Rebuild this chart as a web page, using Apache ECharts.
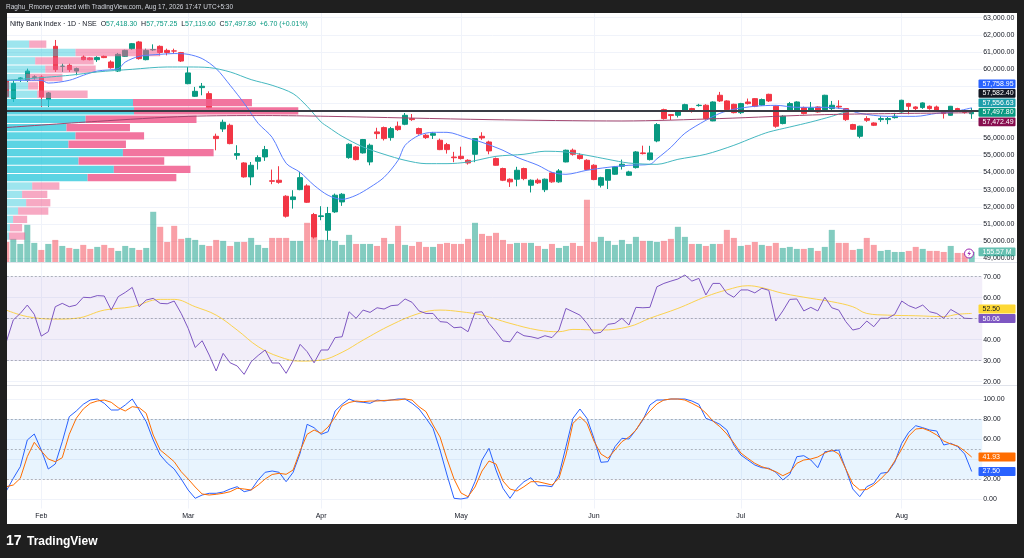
<!DOCTYPE html>
<html>
<head>
<meta charset="utf-8">
<title>Nifty Bank Index · 1D · NSE</title>
<script src="https://cdn.jsdelivr.net/npm/echarts@6.0.0/dist/echarts.min.js"></script>
<style>
    html, body { margin: 0; padding: 0; background: #1f1f1f; overflow: hidden; }
    #chart { width: 1024px; height: 558px; }
</style>
</head>
<body>
<div id="chart"></div>
<script>
// time axis: month names shown on the first session of each month
var monthLabels = ['Feb', 'Mar', 'Apr', 'May', 'Jun', 'Jul', 'Aug'];
var monthStarts = [5, 26, 45, 65, 84, 105, 128];

// daily candles [open, high, low, close]
var ohlc = [
    [59360, 59450, 58300, 58400], [58295, 59360, 58100, 59170], [59460, 59550, 59260, 59500], [59360, 60040, 59260, 59900],
    [59530, 59650, 59400, 59560], [59555, 59650, 57810, 58390], [58240, 58680, 57810, 58625], [61335, 61705, 59845, 59980],
    [60170, 60330, 59845, 60180], [60230, 60330, 59845, 59980], [59900, 60100, 59650, 60040], [60715, 60810, 60520, 60560],
    [60660, 60700, 60520, 60560], [60560, 60760, 60430, 60680], [60755, 60800, 60650, 60680], [60425, 60520, 60040, 60095],
    [59900, 60950, 59845, 60870], [60755, 61140, 60715, 61100], [61200, 61530, 61140, 61490], [61590, 61650, 60560, 60620],
    [60560, 61200, 60520, 61100], [61130, 61450, 61060, 61150], [61335, 61390, 60810, 60980], [61100, 61200, 60810, 60980],
    [61070, 61200, 60910, 61060], [60970, 61010, 60425, 60480], [59165, 60135, 59130, 59790], [58430, 58975, 58390, 58720],
    [58935, 59205, 58490, 59015], [58585, 58720, 57715, 57770], [56105, 56260, 55290, 55970], [56530, 57075, 56360, 56920],
    [56745, 56840, 55640, 55680], [55000, 55585, 54750, 55100], [54555, 54600, 53700, 53745], [53745, 54610, 53260, 54420],
    [54655, 55000, 54170, 54865], [54905, 55545, 54675, 55330], [53520, 54170, 53320, 53490], [53550, 54365, 53350, 53430],
    [52620, 52680, 51380, 51460], [52425, 52970, 51900, 52580], [53005, 54030, 52970, 53700], [53220, 53315, 52230, 52270],
    [51555, 51650, 50160, 50255], [51440, 52040, 51225, 51480], [50645, 52000, 50060, 51615], [51710, 52775, 51650, 52680],
    [52290, 52800, 52060, 52735], [54865, 55700, 54800, 55640], [55485, 55540, 54700, 54750], [55140, 55950, 55100, 55915],
    [54615, 55680, 54420, 55585], [56360, 56600, 55950, 56260], [56610, 56670, 55860, 55970], [56030, 56650, 55850, 56550],
    [56690, 56960, 56420, 56495], [56805, 57460, 56750, 57325], [57130, 57400, 57000, 57075], [56555, 56610, 56200, 56260],
    [56165, 56230, 55950, 56030], [56165, 56360, 55950, 56260], [55875, 55970, 55300, 55330], [55620, 55720, 55100, 55330],
    [54900, 55200, 54600, 54860], [54945, 55500, 54750, 54810], [54710, 54770, 54460, 54555], [55060, 56000, 54600, 55970],
    [56105, 56340, 55900, 56010], [55775, 55850, 55060, 55255], [54810, 54870, 54400, 54420], [54230, 54280, 53500, 53550],
    [53610, 53660, 53160, 53455], [53610, 54330, 53200, 54130], [54230, 54280, 53550, 53645], [53260, 53600, 52840, 53550],
    [53550, 53650, 53330, 53400], [53000, 53650, 52860, 53610], [53975, 54030, 53400, 53455], [53455, 54200, 53400, 54090],
    [54615, 55330, 54590, 55295], [55295, 55390, 54980, 55060], [55005, 55120, 54750, 54810], [54710, 54770, 54130, 54170],
    [54420, 54480, 53550, 53590], [53260, 53750, 53130, 53700], [53550, 54200, 53040, 54170], [53900, 54380, 53860, 54325],
    [54365, 54750, 54170, 54480], [53840, 54100, 53800, 54035], [54285, 55250, 54230, 55195], [55140, 55560, 55050, 55100],
    [54750, 55550, 54700, 55140], [55835, 56870, 55760, 56785], [57655, 57710, 57075, 57135], [57365, 57400, 57050, 57310],
    [57325, 57630, 57200, 57580], [57580, 58000, 57520, 57945], [57715, 57760, 57480, 57580], [57890, 57990, 57830, 57910],
    [57910, 57970, 57075, 57135], [57000, 58140, 56980, 58100], [58490, 58685, 58100, 58160], [58160, 58200, 57600, 57655],
    [57965, 58000, 57440, 57480], [57480, 58050, 57400, 58005], [58100, 58300, 57950, 58005], [58295, 58330, 57800, 57850],
    [57925, 58300, 57880, 58240], [58545, 58580, 58100, 58160], [57850, 57900, 56600, 56690], [56845, 57330, 56800, 57270],
    [57580, 58100, 57520, 58005], [57580, 58140, 57520, 58100], [57775, 57830, 57380, 57425], [57620, 58100, 57520, 57755],
    [57810, 57850, 57480, 57520], [57655, 58520, 57600, 58490], [57715, 58160, 57580, 57910], [57850, 58200, 57700, 57810],
    [57715, 57750, 57000, 57075], [56785, 56830, 56480, 56515], [56105, 56720, 55990, 56690], [57135, 57270, 56940, 57035],
    [56880, 56920, 56700, 56745], [57075, 57270, 56940, 57135], [57075, 57230, 56810, 57135], [57190, 57465, 57135, 57270],
    [57520, 58230, 57480, 58200], [58005, 58050, 57385, 57850], [57810, 57850, 57600, 57715], [57775, 58080, 57700, 58045],
    [57850, 57900, 57650, 57715], [57810, 57890, 57520, 57620], [57520, 57560, 57135, 57425], [57325, 57870, 57300, 57850],
    [57715, 57760, 57520, 57580], [57540, 57580, 57420, 57491.10], [57418.30, 57757.25, 57119.60, 57497.80]
];

// volume, millions
var volume = [
    310, 357, 279, 574, 295, 186, 279, 341, 248, 217,
    202, 264, 202, 233, 264, 217, 171, 248, 217, 186,
    217, 775, 543, 310, 558, 357, 372, 341, 264, 248,
    341, 326, 248, 310, 310, 372, 264, 217, 372, 372,
    372, 326, 326, 605, 682, 341, 341, 326, 264, 419,
    279, 279, 279, 248, 372, 279, 558, 264, 248, 310,
    233, 233, 279, 295, 279, 279, 357, 605, 434, 403,
    450, 341, 279, 295, 295, 295, 248, 202, 279, 217,
    248, 295, 248, 961, 310, 388, 326, 264, 341, 279,
    388, 326, 326, 310, 326, 357, 543, 388, 279, 279,
    248, 279, 279, 496, 372, 248, 264, 310, 264, 248,
    295, 217, 233, 202, 202, 217, 171, 233, 496, 295,
    295, 186, 202, 372, 264, 171, 186, 155, 155, 171,
    233, 202, 171, 171, 155, 248, 140, 140, 155.57
];

// moving averages, [bar, price]
var maFast = [
    [0, 59360], [5, 59360], [6, 59200], [9, 59360], [11, 59650], [13, 59900], [16, 60040], [17, 60420], [19, 60755],
    [22, 60870], [24, 60915], [26, 60870], [28, 60620], [30, 60040], [32, 59070], [34, 58025], [36, 56860], [38, 56045],
    [40, 54535], [42, 54010], [44, 53255], [46, 52675], [48, 52440], [50, 52675], [52, 53140], [54, 53720], [56, 54710],
    [57, 55580], [59, 56165], [61, 56335], [63, 56335], [66, 55990], [68, 55755], [71, 55290], [73, 54885], [76, 54420],
    [78, 54010], [80, 53895], [83, 54130], [86, 54300], [89, 54420], [92, 54475], [93, 54795], [95, 55465], [97, 56280],
    [100, 57035], [102, 57440], [104, 57675], [107, 57850], [110, 57905], [113, 57790], [117, 57790], [120, 57675],
    [122, 57440], [126, 57265], [130, 57265], [133, 57440], [135, 57500], [138, 57758.95]
];
var maSlow = [
    [0, 59360], [9, 59650], [13, 59845], [18, 60000], [23, 60135], [26, 60135], [29, 60100], [32, 59845], [35, 59400],
    [38, 59070], [41, 58585], [43, 57850], [45, 56935], [46, 56645], [48, 56105], [51, 55485], [54, 55060], [57, 54710],
    [60, 54515], [63, 54515], [66, 54610], [70, 54940], [74, 55060], [77, 55235], [80, 55190], [83, 55000], [86, 54765],
    [89, 54550], [93, 54475], [96, 54765], [100, 55060], [104, 55580], [107, 56065], [109, 56355], [112, 56645],
    [115, 56935], [118, 57265], [120, 57515], [123, 57575], [127, 57575], [131, 57575], [134, 57565], [138, 57556.63]
];
var maLong = [
    [0, 56615], [13, 56975], [26, 57265], [37, 57310], [46, 57265], [69, 57075], [88, 56995], [102, 57135],
    [117, 57365], [138, 57472.49]
];

// visible-range volume profile, top row first
var vpUp = [22, 68, 28, 38, 19, 21, 30, 125, 126, 78, 59, 68, 61, 115, 71, 106, 80, 25, 15, 19, 11, 6, 3, 2];
var vpDown = [17, 84, 58, 50, 36, 10, 50, 118, 163, 110, 63, 68, 57, 90, 85, 76, 88, 27, 25, 24, 30, 14, 12, 16];
var pocPrice = 57582.40;

var rsi = [
    39.0, 49.4, 52.5, 56.5, 52.1, 41.7, 43.8, 55.7, 57.3, 55.7,
    56.5, 60.2, 60.0, 61.0, 60.8, 54.1, 60.5, 62.5, 64.9, 55.7,
    58.9, 59.7, 57.3, 57.1, 58.4, 52.5, 45.4, 36.3, 39.5, 32.7,
    25.1, 33.5, 29.0, 27.5, 23.5, 29.5, 32.5, 35.1, 28.9, 28.9,
    24.0, 30.0, 37.8, 34.3, 29.0, 35.1, 35.1, 41.0, 41.4, 53.3,
    50.2, 54.1, 53.0, 55.2, 54.6, 56.2, 56.5, 59.4, 57.8, 53.7,
    52.5, 52.5, 48.6, 48.3, 45.7, 46.0, 43.8, 53.0, 53.3, 47.8,
    43.8, 39.4, 39.0, 43.8, 41.9, 41.4, 40.6, 41.9, 41.0, 44.6,
    54.9, 53.3, 51.7, 47.8, 43.0, 43.5, 47.3, 47.8, 50.2, 47.0,
    55.4, 55.2, 55.4, 65.2, 66.8, 67.9, 68.9, 70.8, 67.9, 69.2,
    61.3, 66.8, 66.8, 62.1, 60.2, 63.7, 63.7, 62.3, 64.5, 63.5,
    48.9, 53.7, 59.2, 59.4, 53.7, 55.4, 53.7, 60.2, 55.2, 54.1,
    48.6, 44.6, 45.4, 48.9, 46.2, 50.2, 50.2, 52.1, 58.4, 56.2,
    54.9, 56.5, 53.3, 52.5, 50.2, 54.4, 52.5, 50.2, 50.06
];
var rsiMa = [
    [0, 54.1], [3, 51.0], [7, 49.8], [10, 50.2], [14, 54.1], [18, 55.7], [22, 59.2], [24, 59.2], [27, 55.7],
    [30, 51.7], [33, 44.6], [36, 36.7], [39, 31.9], [42, 29.8], [45, 30.3], [48, 34.0], [51, 39.8], [55, 47.0],
    [59, 52.5], [62, 54.1], [65, 53.3], [68, 51.7], [72, 47.8], [76, 44.6], [79, 43.8], [81, 44.9], [85, 44.6],
    [89, 46.2], [92, 50.2], [96, 54.9], [100, 60.5], [103, 63.7], [106, 65.7], [108, 64.8], [111, 62.1], [115, 59.7],
    [118, 58.1], [121, 55.7], [123, 52.5], [126, 51.7], [130, 51.4], [134, 51.0], [136, 52.1], [138, 52.50]
];

var stochK = [
    8, 20.7, 32.3, 59, 65, 49, 30, 35, 57.3, 82.3,
    88, 94.7, 99, 100, 95.7, 89, 89, 94, 100, 89,
    77.3, 59, 44, 36, 30, 20, 9, 0.7, 4, 5.7,
    5.7, 7, 10, 12.3, 7.3, 9, 19, 26.7, 28, 26.7,
    17.3, 26.7, 45.7, 74.7, 71.3, 64.7, 67.3, 88, 94.7, 100,
    97.3, 96.7, 95.7, 99, 98, 99, 100, 100, 95.7, 90,
    80.7, 70.7, 49, 24, 0.7, 0, 1.3, 17.3, 39, 50.7,
    29, 10.7, 0.7, 10.7, 17.3, 21.3, 13.3, 13.3, 12.3, 24,
    52.3, 80.7, 90, 80.7, 60.7, 36.7, 37.3, 52.3, 60.7, 60,
    69, 79, 94, 99, 99, 100, 100, 100, 98, 94.7,
    80.7, 78, 74.7, 69, 54, 44, 39, 34, 31.3, 30.7,
    26.7, 19, 24.7, 42.3, 43.3, 39, 31.3, 47.3, 48, 49,
    30, 10, 2.3, 12.3, 15.7, 25.7, 26.7, 36.7, 55.7, 66.7,
    73.3, 71.3, 69, 68, 54, 55.7, 52.3, 45, 27.50
];
var stochD = [
    12.3, 14, 20.7, 42.3, 56.7, 48, 40, 37.3, 41.3, 64.7,
    80.7, 90, 95.7, 98, 99, 96.7, 91.3, 88, 92.3, 91.3,
    85.7, 64, 49, 43.3, 37.3, 27.3, 20, 12, 5, 4,
    4.7, 5.7, 7.3, 10.7, 10, 9, 14, 20, 24.5, 25.7,
    24.7, 29, 48, 64.7, 69, 65.7, 72, 82, 93, 96.5,
    98, 97.3, 98, 98, 98.5, 99, 99, 100, 99, 92.3,
    87.3, 74, 62, 40, 20, 6, 2.3, 12, 28, 38,
    35, 18, 10, 8, 12.3, 17.3, 17.3, 15.7, 14, 20.7,
    44, 75.7, 82.3, 75.7, 58, 45, 40.7, 49, 57.3, 62,
    69, 80, 88, 95, 99, 100, 100, 99, 95.7, 92,
    86, 78, 72.3, 65, 56, 46, 40.7, 35.7, 32.3, 30,
    27.3, 23.3, 26.7, 35.7, 39, 40, 42, 46, 49, 45,
    30, 15, 9, 9.5, 14, 20, 27.3, 38, 50, 63,
    70, 70.7, 68, 64, 58, 55, 53, 48, 41.93
];

var upColor = '#089981';
var downColor = '#f23645';
var font = '"Liberation Sans", Arial, sans-serif';
var gridLeft = 2.8;
var gridWidth = 979.4;

var chart = echarts.init(document.getElementById('chart'));

// one extra empty slot keeps a little room right of the last candle
var slots = [];
for (var i = 0; i <= ohlc.length; i++) {
    slots.push(String(i));
}

function money(v) {
    return v.toLocaleString('en-US', { minimumFractionDigits: 2, maximumFractionDigits: 2 });
}
function last(arr) {
    return arr[arr.length - 1];
}
function isMonthStart(idx) {
    return monthStarts.indexOf(idx) >= 0;
}

function timeAxis(gridIndex, labels, lines) {
    return {
        type: 'category',
        gridIndex: gridIndex,
        data: slots,
        boundaryGap: true,
        axisLine: { show: false },
        axisTick: { show: false },
        axisLabel: {
            show: labels,
            interval: function (idx) { return isMonthStart(idx); },
            formatter: function (v, idx) {
                var k = monthStarts.indexOf(idx);
                return k >= 0 ? monthLabels[k] : '';
            },
            margin: 4,
            fontSize: 7,
            color: '#131722',
            fontFamily: font
        },
        splitLine: {
            show: lines,
            alignWithLabel: true,
            interval: function (idx) { return isMonthStart(idx); },
            lineStyle: { color: '#f0f3fa', width: 1 }
        }
    };
}

function scale(gridIndex, min, max, step, fmt) {
    return {
        type: 'value',
        gridIndex: gridIndex,
        position: 'right',
        min: min,
        max: max,
        interval: step,
        axisLine: { show: false },
        axisTick: { show: false },
        axisLabel: {
            margin: 1,
            fontSize: 7,
            color: '#131722',
            fontFamily: font,
            formatter: fmt,
            showMinLabel: false,
            showMaxLabel: false
        },
        splitLine: { show: true, showMinLine: false, showMaxLine: false, lineStyle: { color: '#f0f3fa', width: 1 } }
    };
}

// candles and volume
var candleData = ohlc.map(function (d) { return [d[0], d[3], d[2], d[1]]; });
var volData = volume.map(function (v, i) {
    var up = ohlc[i][3] >= ohlc[i][0];
    return { value: v, itemStyle: { color: up ? 'rgba(8,153,129,0.5)' : 'rgba(242,54,69,0.47)' } };
});

// profile rows cover the visible high/low; value area grows from the POC row to 70%
var hi = Math.max.apply(null, ohlc.map(function (d) { return d[1]; }));
var lo = Math.min.apply(null, ohlc.map(function (d) { return d[2]; }));
var rowSize = (hi - lo) / vpUp.length;
var vpTotal = vpUp.map(function (u, i) { return u + vpDown[i]; });
var vpMax = Math.max.apply(null, vpTotal);
var pocRow = vpTotal.indexOf(vpMax);
var vpSum = vpTotal.reduce(function (a, b) { return a + b; }, 0);
var vaTop = pocRow, vaBot = pocRow, vaSum = vpTotal[pocRow];
while (vaSum < vpSum * 0.7) {
    var above = vaTop > 0 ? vpTotal[vaTop - 1] : -1;
    var below = vaBot < vpTotal.length - 1 ? vpTotal[vaBot + 1] : -1;
    if (above >= below) { vaTop--; vaSum += above; } else { vaBot++; vaSum += below; }
}
var vpRows = vpUp.map(function (u, i) {
    return [hi - i * rowSize, hi - (i + 1) * rowSize, u, vpDown[i], (i >= vaTop && i <= vaBot) ? 1 : 0];
});

function dashedLevels(levels) {
    return {
        silent: true,
        symbol: ['none', 'none'],
        label: { show: false },
        lineStyle: { color: 'rgba(120,123,134,0.55)', type: [2, 2], width: 1 },
        data: levels.map(function (v) { return { yAxis: v }; })
    };
}

chart.setOption({
    animation: false,
    backgroundColor: '#ffffff',
    grid: [
        { left: gridLeft, width: gridWidth, top: 0.5, height: 275.2 },
        { left: gridLeft, width: gridWidth, top: 13, height: 249 },
        { left: 7, width: 971, top: 0.5, height: 275.2 },
        { left: gridLeft, width: gridWidth, top: 255.7, height: 147 },
        { left: gridLeft, width: gridWidth, top: 379, height: 140 },
        // stochastic pane as drawn, so the month lines stop above the time scale
        { left: gridLeft, width: gridWidth, top: 385.5, height: 123 }
    ],
    xAxis: [
        timeAxis(0, false, true),
        timeAxis(1, false, false),
        { type: 'value', gridIndex: 2, min: 0, max: vpMax / 0.3, show: false },
        timeAxis(3, false, true),
        timeAxis(4, false, false),
        timeAxis(5, true, true)
    ],
    yAxis: [
        scale(0, 48000, 64000, 1000, money),
        { type: 'value', gridIndex: 1, min: 0, max: function (v) { return v.max * 4; }, show: false },
        { type: 'value', gridIndex: 2, min: 48000, max: 64000, show: false },
        scale(3, 10, 80, 10, function (v) { return v.toFixed(2); }),
        scale(4, -20, 120, 20, function (v) { return v.toFixed(2); }),
        { type: 'value', gridIndex: 5, min: 0, max: 1, show: false }
    ],
    series: [
        {
            name: 'Volume', type: 'bar', xAxisIndex: 1, yAxisIndex: 1, z: 1, silent: true,
            barWidth: '86%', data: volData
        },
        {
            name: 'Nifty Bank', type: 'candlestick', xAxisIndex: 0, yAxisIndex: 0, z: 2, silent: true,
            barWidth: 5, data: candleData,
            itemStyle: { color: upColor, color0: downColor, borderColor: upColor, borderColor0: downColor, borderWidth: 1 }
        },
        {
            name: 'VRVP', type: 'custom', xAxisIndex: 2, yAxisIndex: 2, z: 3, silent: true,
            encode: { x: [2, 3], y: [0, 1] },
            data: vpRows,
            renderItem: function (params, api) {
                var inVa = api.value(4) === 1;
                var p0 = api.coord([0, api.value(0)]);
                var p1 = api.coord([api.value(2), api.value(1)]);
                var p2 = api.coord([api.value(2) + api.value(3), api.value(1)]);
                var h = p1[1] - p0[1] - 1;
                return {
                    type: 'group',
                    children: [
                        { type: 'rect', shape: { x: p0[0], y: p0[1] + 0.5, width: p1[0] - p0[0], height: h },
                          style: { fill: inVa ? 'rgba(38,198,218,0.75)' : 'rgba(38,198,218,0.45)' } },
                        { type: 'rect', shape: { x: p1[0], y: p0[1] + 0.5, width: p2[0] - p1[0], height: h },
                          style: { fill: inVa ? 'rgba(240,98,146,0.88)' : 'rgba(240,98,146,0.55)' } }
                    ]
                };
            }
        },
        {
            name: 'MA fast', type: 'line', xAxisIndex: 0, yAxisIndex: 0, z: 4, silent: true,
            data: maFast, showSymbol: false, smooth: 0.3, lineStyle: { color: '#5b7fff', width: 1 }
        },
        {
            name: 'MA slow', type: 'line', xAxisIndex: 0, yAxisIndex: 0, z: 4, silent: true,
            data: maSlow, showSymbol: false, smooth: 0.3, lineStyle: { color: '#45b8c0', width: 1 }
        },
        {
            name: 'MA long', type: 'line', xAxisIndex: 0, yAxisIndex: 0, z: 5, silent: true,
            data: maLong, showSymbol: false, smooth: 0.3, lineStyle: { color: '#a2456e', width: 1 },
            markLine: {
                silent: true, symbol: ['none', 'none'], label: { show: false },
                lineStyle: { color: '#3a3d45', type: 'solid', width: 2 },
                data: [{ yAxis: pocPrice }]
            }
        },
        {
            name: 'RSI', type: 'line', xAxisIndex: 3, yAxisIndex: 3, z: 4, silent: true,
            data: rsi, showSymbol: false, lineStyle: { color: '#7e57c2', width: 1 },
            markArea: {
                silent: true,
                itemStyle: { color: 'rgba(126,87,194,0.1)' },
                data: [[{ yAxis: 30 }, { yAxis: 70 }]]
            },
            markLine: dashedLevels([70, 50, 30])
        },
        {
            name: 'RSI MA', type: 'line', xAxisIndex: 3, yAxisIndex: 3, z: 3, silent: true,
            data: rsiMa, showSymbol: false, smooth: 0.4, lineStyle: { color: '#fbd24e', width: 1 }
        },
        {
            name: '%K', type: 'line', xAxisIndex: 4, yAxisIndex: 4, z: 4, silent: true,
            data: stochK, showSymbol: false, lineStyle: { color: '#2962ff', width: 1 },
            markArea: {
                silent: true,
                itemStyle: { color: 'rgba(33,150,243,0.1)' },
                data: [[{ yAxis: 20 }, { yAxis: 80 }]]
            },
            markLine: dashedLevels([80, 50, 20])
        },
        {
            name: '%D', type: 'line', xAxisIndex: 4, yAxisIndex: 4, z: 4, silent: true,
            data: stochD, showSymbol: false, lineStyle: { color: '#ff6d00', width: 1 }
        }
    ]
});

// value tags on the right scale; the main value sits on its level, the rest stack around it
var tagH = 9.5;
function placeTags(tags) {
    tags.forEach(function (t) { t.y = chart.convertToPixel({ yAxisIndex: t.axis }, t.value); });
    tags.sort(function (a, b) { return a.y - b.y; });
    var k = 0;
    tags.forEach(function (t, i) { if (t.main) { k = i; } });
    for (var a = k - 1; a >= 0; a--) { tags[a].y = Math.min(tags[a].y, tags[a + 1].y - tagH); }
    for (var b = k + 1; b < tags.length; b++) { tags[b].y = Math.max(tags[b].y, tags[b - 1].y + tagH); }
    return tags;
}

var lastBar = last(ohlc);
var prevClose = ohlc[ohlc.length - 2][3];
var change = lastBar[3] - prevClose;
var tags = [].concat(
    placeTags([
        { axis: 0, value: last(maFast)[1], bg: '#2962ff', text: money(last(maFast)[1]) },
        { axis: 0, value: pocPrice, bg: '#131722', text: money(pocPrice) },
        { axis: 0, value: last(maSlow)[1], bg: '#1e9fab', text: money(last(maSlow)[1]) },
        { axis: 0, value: lastBar[3], bg: lastBar[3] >= lastBar[0] ? upColor : downColor, text: money(lastBar[3]), main: true },
        { axis: 0, value: last(maLong)[1], bg: '#880e4f', text: money(last(maLong)[1]) }
    ]),
    placeTags([{ axis: 1, value: last(volume), bg: 'rgba(8,153,129,0.62)', text: last(volume).toFixed(2) + ' M', main: true }]),
    placeTags([
        { axis: 3, value: last(rsiMa)[1], bg: '#fdd835', fg: '#131722', text: last(rsiMa)[1].toFixed(2) },
        { axis: 3, value: last(rsi), bg: '#7e57c2', text: last(rsi).toFixed(2), main: true }
    ]),
    placeTags([
        { axis: 4, value: last(stochD), bg: '#ff6d00', text: last(stochD).toFixed(2) },
        { axis: 4, value: last(stochK), bg: '#2962ff', text: last(stochK).toFixed(2), main: true }
    ])
);

var frame = '#1f1f1f';
var graphics = [
    { type: 'line', z: 50, shape: { x1: 7, y1: 262.5, x2: 1017, y2: 262.5 }, style: { stroke: '#e0e3eb', lineWidth: 1 } },
    { type: 'line', z: 50, shape: { x1: 7, y1: 385.5, x2: 1017, y2: 385.5 }, style: { stroke: '#e0e3eb', lineWidth: 1 } },
    { type: 'rect', z: 100, shape: { x: 0, y: 0, width: 1024, height: 13 }, style: { fill: frame } },
    { type: 'rect', z: 100, shape: { x: 0, y: 524, width: 1024, height: 34 }, style: { fill: frame } },
    { type: 'rect', z: 100, shape: { x: 0, y: 0, width: 7, height: 558 }, style: { fill: frame } },
    { type: 'rect', z: 100, shape: { x: 1017, y: 0, width: 7, height: 558 }, style: { fill: frame } },
    {
        type: 'text', z: 101,
        style: {
            x: 6, y: 7, text: 'Raghu_Rmoney created with TradingView.com, Aug 17, 2026 17:47 UTC+5:30',
            font: '6.5px ' + font, fill: '#d1d4dc', align: 'left', verticalAlign: 'middle',
            textAlign: 'left', textVerticalAlign: 'middle'
        }
    },
    {
        type: 'text', z: 101,
        style: {
            x: 10, y: 24,
            text: 'Nifty Bank Index · 1D · NSE  O{g|' + money(lastBar[0]) + '}  H{g|' + money(lastBar[1]) +
                '}  L{g|' + money(lastBar[2]) + '}  C{g|' + money(lastBar[3]) + '}  {g|' +
                (change >= 0 ? '+' : '') + change.toFixed(2) + ' (' + (change >= 0 ? '+' : '') +
                (change / prevClose * 100).toFixed(2) + '%)}',
            font: '7px ' + font, fill: '#131722', align: 'left', verticalAlign: 'middle',
            textAlign: 'left', textVerticalAlign: 'middle',
            rich: { g: { fill: upColor, color: upColor, font: '7px ' + font } }
        }
    },
    {
        type: 'text', z: 101,
        style: {
            x: 6, y: 541.5, text: '17', font: 'bold 14px ' + font, fill: '#ffffff',
            align: 'left', verticalAlign: 'middle', textAlign: 'left', textVerticalAlign: 'middle'
        }
    },
    {
        type: 'text', z: 101,
        style: {
            x: 27, y: 541.5, text: 'TradingView', font: 'bold 12px ' + font, fill: '#ffffff',
            align: 'left', verticalAlign: 'middle', textAlign: 'left', textVerticalAlign: 'middle'
        }
    },
    { type: 'circle', z: 70, shape: { cx: 969, cy: 253.5, r: 4.5 }, style: { fill: '#ffffff', stroke: '#9c27b0', lineWidth: 1 } },
    {
        type: 'polygon', z: 71,
        shape: { points: [[970, 250.6], [967.3, 254.1], [969.2, 254.1], [968.2, 256.6], [971, 252.9], [969.1, 252.9]] },
        style: { fill: '#9c27b0' }
    }
];
tags.forEach(function (t) {
    graphics.push({
        type: 'rect', z: 80,
        shape: { x: 978.5, y: t.y - tagH / 2 + 0.3, width: 37, height: tagH - 0.6, r: 1 },
        style: { fill: t.bg }
    });
    graphics.push({
        type: 'text', z: 81,
        style: {
            x: 982.5, y: t.y, text: t.text, font: '7px ' + font, fill: t.fg || '#ffffff',
            align: 'left', verticalAlign: 'middle', textAlign: 'left', textVerticalAlign: 'middle'
        }
    });
});

chart.setOption({ graphic: graphics });
</script>
</body>
</html>
